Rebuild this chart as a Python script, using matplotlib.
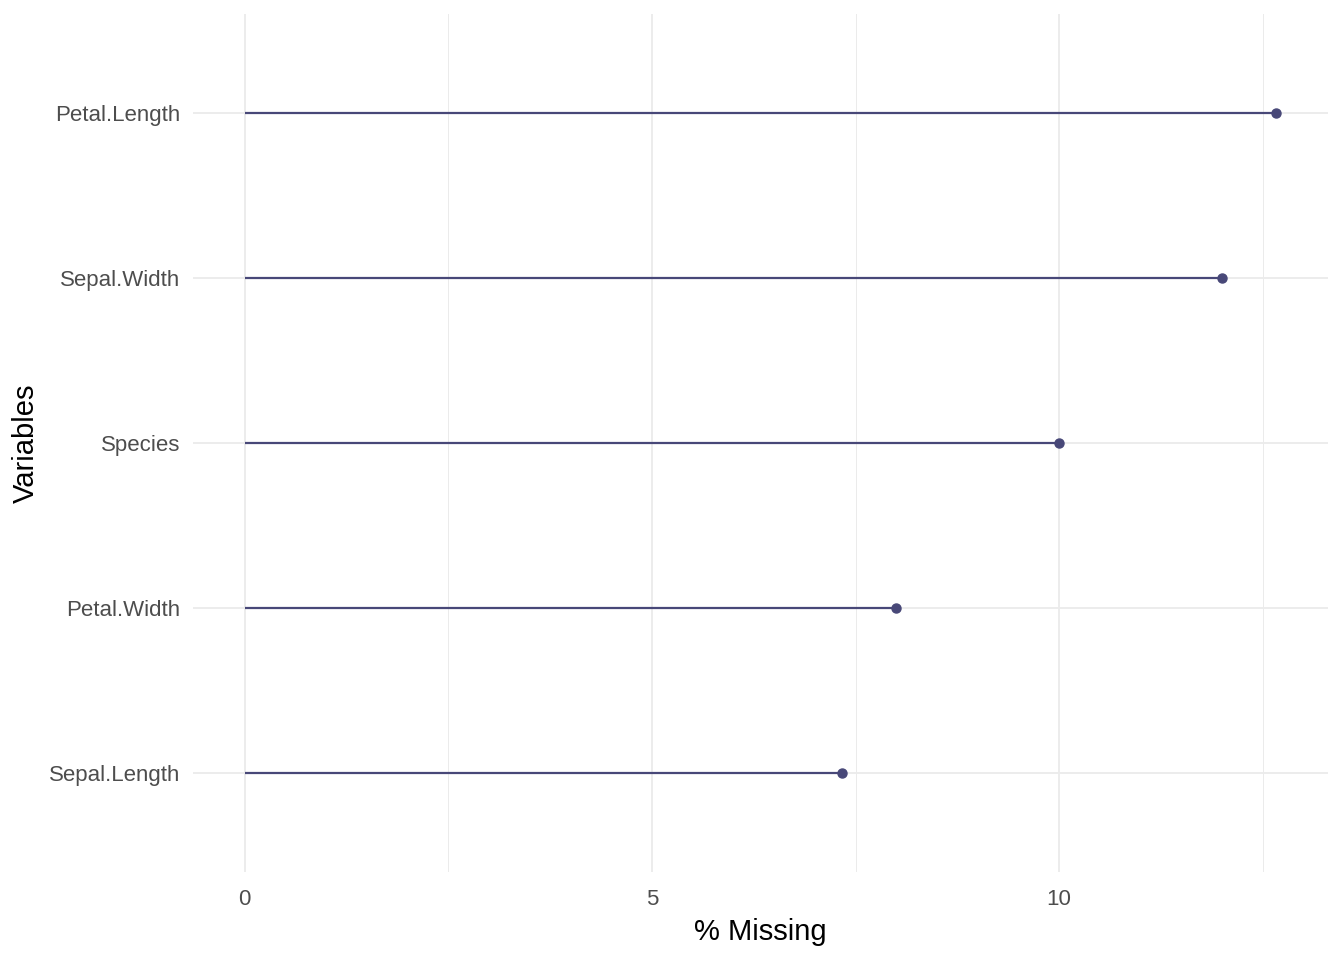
import numpy as np
import matplotlib.pyplot as plt
from matplotlib.ticker import MultipleLocator

# pourcentage de valeurs manquantes par variable (iris avec NA)
variables = ["Sepal.Length", "Petal.Width", "Species", "Sepal.Width", "Petal.Length"]
pct_missing = [7.333, 8.0, 10.0, 12.0, 12.667]

plt.rcParams['font.family'] = ['Liberation Sans', 'DejaVu Sans']

fig = plt.figure(figsize=(13.44, 9.6), dpi=100)
ax = fig.add_axes([193/1344, 1 - 872/960, (1328 - 193)/1344, (872 - 14)/960])

col = "#484878"
ypos = np.arange(len(variables))
ax.hlines(ypos, 0, pct_missing, color=col, lw=1.6, zorder=3)
ax.plot(pct_missing, ypos, 'o', color=col, ms=6.5, zorder=4)

# limites avec expansion facon ggplot
xmax = max(pct_missing)
ax.set_xlim(-0.05 * xmax, xmax * 1.05)
ax.set_ylim(-0.6, len(variables) - 1 + 0.6)

ax.set_yticks(ypos)
ax.set_yticklabels(variables)
ax.xaxis.set_major_locator(MultipleLocator(5))
ax.xaxis.set_minor_locator(MultipleLocator(2.5))

ax.grid(which='major', color='#EBEBEB', lw=1.3)
ax.grid(which='minor', axis='x', color='#EBEBEB', lw=0.7)
ax.set_axisbelow(True)
for s in ax.spines.values():
    s.set_visible(False)

ax.tick_params(which='both', length=0)
ax.tick_params(axis='y', labelsize=16, labelcolor='#4D4D4D', pad=9)
ax.tick_params(axis='x', labelsize=16, labelcolor='#4D4D4D', pad=12)

ax.set_xlabel("% Missing", fontsize=21, labelpad=6)
ax.set_ylabel("Variables", fontsize=21)
ax.yaxis.set_label_coords(-0.135, 0.5)

fig.savefig("out.png", dpi=100)
